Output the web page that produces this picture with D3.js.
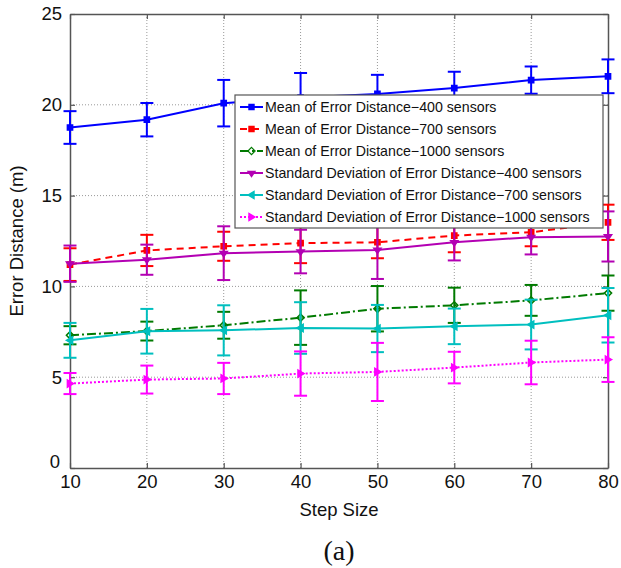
<!DOCTYPE html>
<html>
<head>
<meta charset="utf-8">
<script src="https://cdn.jsdelivr.net/npm/d3@7"></script>
<style>
  body { margin: 0; background: #fff; }
  text { font-family: "Liberation Sans", Arial, sans-serif; }
</style>
</head>
<body>
<div id="chart"></div>
<script>
// chart data
var stepSizes = [10, 20, 30, 40, 50, 60, 70, 80];
var yTicks = [0, 5, 10, 15, 20, 25];

var mean400 = [18.75, 19.18, 20.09, 20.4, 20.6, 20.92, 21.36, 21.57];
var mean400Err = [0.9, 0.92, 1.28, 1.35, 1.05, 0.9, 0.75, 0.93];
var mean700 = [11.2, 11.98, 12.21, 12.38, 12.43, 12.8, 12.98, 13.53];
var mean700Err = [0.9, 0.86, 0.8, 1.1, 0.88, 0.92, 0.77, 0.97];
var mean1000 = [7.31, 7.54, 7.86, 8.28, 8.77, 8.96, 9.23, 9.63];
var mean1000Err = [0.5, 0.52, 0.74, 1.5, 1.25, 0.97, 0.85, 0.97];
var sd400 = [11.25, 11.47, 11.83, 11.92, 12.01, 12.43, 12.71, 12.75];
var sd400Err = [1.0, 0.83, 1.48, 1.2, 1.6, 1.0, 0.95, 1.38];
var sd700 = [7.03, 7.53, 7.58, 7.71, 7.68, 7.8, 7.9, 8.41];
var sd700Err = [0.96, 1.23, 1.38, 1.42, 1.3, 0.98, 1.37, 1.5];
var sd1000 = [4.65, 4.87, 4.93, 5.2, 5.29, 5.53, 5.81, 5.97];
var sd1000Err = [0.58, 0.77, 0.86, 1.22, 1.6, 0.87, 1.2, 1.23];

var seriesNames = [
  "Mean of Error Distance\u2212400 sensors",
  "Mean of Error Distance\u2212700 sensors",
  "Mean of Error Distance\u22121000 sensors",
  "Standard Deviation of Error Distance\u2212400 sensors",
  "Standard Deviation of Error Distance\u2212700 sensors",
  "Standard Deviation of Error Distance\u22121000 sensors"
];

// styles for each series (same order as names)
var series = [
  { vals: mean400, err: mean400Err, color: "#0000ff", dash: null, marker: "square" },
  { vals: mean700, err: mean700Err, color: "#ff0000", dash: "7,5", marker: "square" },
  { vals: mean1000, err: mean1000Err, color: "#007a00", dash: "9,3,2,3", marker: "diamond" },
  { vals: sd400, err: sd400Err, color: "#b300b3", dash: null, marker: "down" },
  { vals: sd700, err: sd700Err, color: "#00bfbf", dash: null, marker: "left" },
  { vals: sd1000, err: sd1000Err, color: "#ff00ff", dash: "2,2", marker: "right" }
];

var svgWidth = 621;
var svgHeight = 568;

var margin = { top: 14, right: 13, bottom: 100, left: 70 };
var width = svgWidth - margin.left - margin.right;
var height = svgHeight - margin.top - margin.bottom;

var svg = d3.select("#chart")
  .append("svg")
  .attr("width", svgWidth)
  .attr("height", svgHeight);

var chartGroup = svg.append("g")
  .attr("transform", `translate(${margin.left}, ${margin.top})`);

var xScale = d3.scaleLinear().domain([10, 80]).range([0, width]);
var yScale = d3.scaleLinear().domain([0, 25]).range([height, 0]);

// dotted grid
chartGroup.selectAll(".vgrid")
  .data(stepSizes.slice(1, -1))
  .enter()
  .append("line")
  .attr("x1", d => xScale(d)).attr("x2", d => xScale(d))
  .attr("y1", 0).attr("y2", height)
  .attr("stroke", "#999").attr("stroke-width", 1)
  .attr("stroke-dasharray", "1,2");

chartGroup.selectAll(".hgrid")
  .data(yTicks.slice(1, -1))
  .enter()
  .append("line")
  .attr("x1", 0).attr("x2", width)
  .attr("y1", d => yScale(d)).attr("y2", d => yScale(d))
  .attr("stroke", "#999").attr("stroke-width", 1)
  .attr("stroke-dasharray", "1,2");

// axes (ticks inward, like matlab)
var bottomAxis = d3.axisBottom(xScale).tickValues(stepSizes).tickSizeInner(-5).tickSizeOuter(0).tickPadding(10);
var topAxis = d3.axisTop(xScale).tickValues(stepSizes).tickSizeInner(-5).tickSizeOuter(0).tickFormat("");
var leftAxis = d3.axisLeft(yScale).tickValues(yTicks).tickSizeInner(-5).tickSizeOuter(0).tickPadding(8);
var rightAxis = d3.axisRight(yScale).tickValues(yTicks).tickSizeInner(-5).tickSizeOuter(0).tickFormat("");

var xAxisG = chartGroup.append("g").attr("transform", `translate(0, ${height})`).call(bottomAxis);
chartGroup.append("g").call(topAxis);
var yAxisG = chartGroup.append("g").call(leftAxis);
chartGroup.append("g").attr("transform", `translate(${width}, 0)`).call(rightAxis);

chartGroup.selectAll(".domain").attr("stroke", "#555").attr("stroke-width", 1.5);
chartGroup.selectAll(".tick line").attr("stroke", "#555").attr("stroke-width", 1.2);
chartGroup.selectAll(".tick text")
  .attr("fill", "#111")
  .style("font-size", "18.5px")
  .style("font-family", "Liberation Sans, Arial, sans-serif");

// matlab puts the 0 a bit higher
yAxisG.selectAll(".tick text").filter(d => d === 0).attr("dy", "-0.05em").attr("x", -10);
xAxisG.selectAll(".tick text").attr("dy", "0.55em");

// error bars + lines
var line = d3.line()
  .x((d, i) => xScale(stepSizes[i]))
  .y(d => yScale(d));

function markerPath(type) {
  var s = 2.6;
  if (type === "square") return `M${-s},${-s}H${s}V${s}H${-s}Z`;
  if (type === "diamond") return `M0,${-s - 1}L${s + 1},0L0,${s + 1}L${-s - 1},0Z`;
  if (type === "down") return `M${-s - 1},${-s + 1}H${s + 1}L0,${s + 1}Z`;
  if (type === "left") return `M${-s - 1},0L${s},${-s - 1}V${s + 1}Z`;
  return `M${s + 1},0L${-s},${-s - 1}V${s + 1}Z`;
}

var capW = 6.5;

series.forEach(function(s) {
  var g = chartGroup.append("g");

  var bars = g.selectAll(".eb")
    .data(s.vals)
    .enter()
    .append("g");

  bars.append("line")
    .attr("x1", (d, i) => xScale(stepSizes[i])).attr("x2", (d, i) => xScale(stepSizes[i]))
    .attr("y1", (d, i) => yScale(d - s.err[i])).attr("y2", (d, i) => yScale(d + s.err[i]))
    .attr("stroke", s.color).attr("stroke-width", 2);
  bars.append("line")
    .attr("x1", (d, i) => xScale(stepSizes[i]) - capW).attr("x2", (d, i) => xScale(stepSizes[i]) + capW)
    .attr("y1", (d, i) => yScale(d + s.err[i])).attr("y2", (d, i) => yScale(d + s.err[i]))
    .attr("stroke", s.color).attr("stroke-width", 2);
  bars.append("line")
    .attr("x1", (d, i) => xScale(stepSizes[i]) - capW).attr("x2", (d, i) => xScale(stepSizes[i]) + capW)
    .attr("y1", (d, i) => yScale(d - s.err[i])).attr("y2", (d, i) => yScale(d - s.err[i]))
    .attr("stroke", s.color).attr("stroke-width", 2);

  g.append("path")
    .attr("d", line(s.vals))
    .attr("fill", "none")
    .attr("stroke", s.color)
    .attr("stroke-width", 2)
    .attr("stroke-dasharray", s.dash);

  g.selectAll(".mk")
    .data(s.vals)
    .enter()
    .append("path")
    .attr("d", markerPath(s.marker))
    .attr("transform", (d, i) => `translate(${xScale(stepSizes[i])}, ${yScale(d)})`)
    .attr("fill", s.marker === "diamond" ? "none" : s.color)
    .attr("stroke", s.color)
    .attr("stroke-width", 1.5);
});

// legend
var legend = chartGroup.append("g")
  .attr("transform", `translate(${235 - margin.left}, ${95 - margin.top})`);

legend.append("rect")
  .attr("width", 368).attr("height", 133)
  .attr("fill", "#fff")
  .attr("stroke", "#555").attr("stroke-width", 1.2);

var rows = legend.selectAll(".lg")
  .data(series)
  .enter()
  .append("g")
  .attr("transform", (d, i) => `translate(0, ${12 + i * 22})`);

rows.append("line")
  .attr("x1", 5).attr("x2", 28).attr("y1", 0).attr("y2", 0)
  .attr("stroke", d => d.color).attr("stroke-width", 2)
  .attr("stroke-dasharray", d => d.dash);

rows.append("path")
  .attr("d", d => markerPath(d.marker))
  .attr("transform", "translate(16.5, 0)")
  .attr("fill", d => d.marker === "diamond" ? "none" : d.color)
  .attr("stroke", d => d.color).attr("stroke-width", 1.2);

rows.append("text")
  .attr("x", 30).attr("y", 0).attr("dy", "0.35em")
  .style("font-size", "14.2px")
  .attr("fill", "#111")
  .text((d, i) => seriesNames[i]);

// axis labels
svg.append("text")
  .attr("x", margin.left + width / 2).attr("y", 510).attr("dy", "0.35em")
  .attr("text-anchor", "middle")
  .style("font-size", "18.5px").attr("fill", "#111")
  .text("Step Size");

svg.append("text")
  .attr("transform", `translate(17, ${margin.top + height / 2}) rotate(-90)`)
  .attr("dy", "0.35em")
  .attr("text-anchor", "middle")
  .style("font-size", "18.5px").attr("fill", "#111")
  .text("Error Distance (m)");

svg.append("text")
  .attr("x", 339).attr("y", 550).attr("dy", "0.35em")
  .attr("text-anchor", "middle")
  .style("font-family", "Liberation Serif, Times New Roman, serif")
  .style("font-size", "28px").attr("fill", "#111")
  .text("(a)");
</script>
</body>
</html>
